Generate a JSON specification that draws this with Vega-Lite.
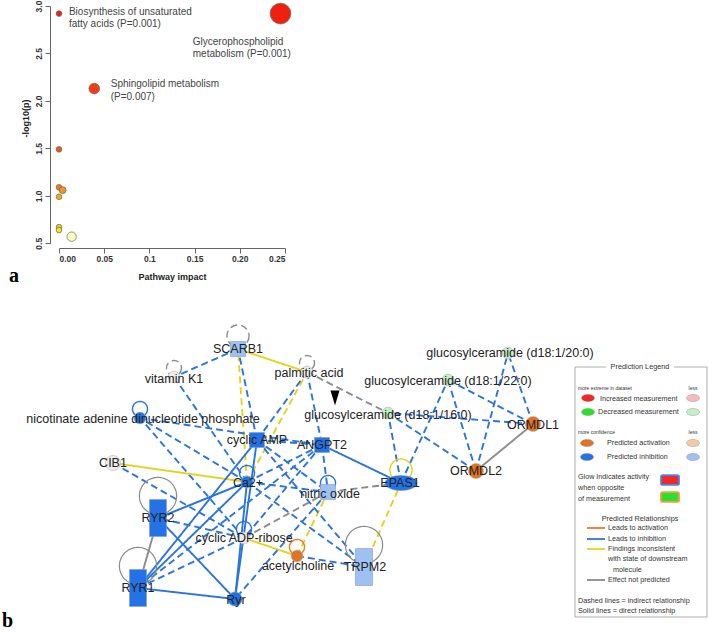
{
"$schema":"https://vega.github.io/schema/vega-lite/v6.json",
"width":709,"height":633,"autosize":"none","padding":0,"background":"white",
"config":{"view":{"stroke":null},"axis":{"grid":false}},
"datasets":{
 "pathways":[
  {"impact":0.245,"logp":2.92},
  {"impact":0.0,"logp":2.92},
  {"impact":0.039,"logp":2.13},
  {"impact":0.0,"logp":1.49},
  {"impact":0.0,"logp":1.09},
  {"impact":0.004,"logp":1.06},
  {"impact":0.0,"logp":0.99},
  {"impact":0.0,"logp":0.67},
  {"impact":0.0,"logp":0.64},
  {"impact":0.014,"logp":0.57}
 ],
 "pathlabels":[
  {"text":"Biosynthesis of unsaturated\nfatty acids (P=0.001)","impact":0.011,"logp":2.94},
  {"text":"Glycerophospholipid\nmetabolism (P=0.001)","impact":0.148,"logp":2.624},
  {"text":"Sphingolipid metabolism\n(P=0.007)","impact":0.0572,"logp":2.173}
 ],
 "nodes":[
  {"id":"SCARB1","label":"SCARB1","x":238,"y":349,"lx":238,"ly":349,"type":"transporter","state":"inhibited (less)"},
  {"id":"VITK1","label":"vitamin K1","x":174,"y":377,"lx":174,"ly":379,"type":"chemical","state":"none"},
  {"id":"PALM","label":"palmitic acid","x":307,"y":372,"lx":309,"ly":373,"type":"chemical","state":"none"},
  {"id":"NAADP","label":"nicotinate adenine dinucleotide phosphate","x":140,"y":418,"lx":143,"ly":419,"type":"chemical","state":"inhibited"},
  {"id":"CAMP","label":"cyclic AMP","x":257,"y":440,"lx":257,"ly":440,"type":"second messenger","state":"inhibited"},
  {"id":"ANGPT2","label":"ANGPT2","x":322,"y":445,"lx":322,"ly":445,"type":"growth factor","state":"inhibited"},
  {"id":"CIB1","label":"CIB1","x":113,"y":463,"lx":113,"ly":463,"type":"other","state":"none"},
  {"id":"CA","label":"Ca2+","x":247,"y":482,"lx":248,"ly":483,"type":"chemical","state":"inhibited"},
  {"id":"NO","label":"nitric oxide","x":328,"y":492,"lx":330,"ly":494,"type":"second messenger","state":"inhibited (less)"},
  {"id":"EPAS1","label":"EPAS1","x":401,"y":483,"lx":400,"ly":483,"type":"transcription regulator","state":"inhibited"},
  {"id":"RYR2","label":"RYR2","x":158,"y":518,"lx":158,"ly":518,"type":"ion channel","state":"inhibited"},
  {"id":"CADPR","label":"cyclic ADP-ribose","x":244,"y":538,"lx":244,"ly":538,"type":"chemical","state":"none"},
  {"id":"RYR1","label":"RYR1","x":138,"y":588,"lx":138,"ly":588,"type":"ion channel","state":"inhibited"},
  {"id":"RYR","label":"Ryr","x":235,"y":599,"lx":236,"ly":600,"type":"complex","state":"inhibited"},
  {"id":"ACH","label":"acetylcholine","x":297,"y":556,"lx":298,"ly":566,"type":"chemical","state":"activated"},
  {"id":"TRPM2","label":"TRPM2","x":364,"y":567,"lx":365,"ly":567,"type":"ion channel","state":"inhibited (less)"},
  {"id":"GC16","label":"glucosylceramide (d18:1/16:0)","x":388,"y":413,"lx":388,"ly":415,"type":"chemical","state":"decreased (less)"},
  {"id":"GC22","label":"glucosylceramide (d18:1/22:0)","x":448,"y":380,"lx":448,"ly":381,"type":"chemical","state":"decreased (less)"},
  {"id":"GC20","label":"glucosylceramide (d18:1/20:0)","x":508,"y":353,"lx":510,"ly":353,"type":"chemical","state":"decreased (less)"},
  {"id":"ORMDL1","label":"ORMDL1","x":533,"y":424,"lx":533,"ly":425,"type":"other","state":"activated"},
  {"id":"ORMDL2","label":"ORMDL2","x":476,"y":471,"lx":476,"ly":471,"type":"other","state":"activated"}
 ],
 "edges":[
  {"from":"SCARB1","to":"VITK1","relation":"inhibition","kind":"indirect"},
  {"from":"PALM","to":"SCARB1","relation":"inconsistent","kind":"direct"},
  {"from":"CA","to":"SCARB1","relation":"inconsistent","kind":"indirect"},
  {"from":"CAMP","to":"SCARB1","relation":"inhibition","kind":"indirect"},
  {"from":"VITK1","to":"CA","relation":"inhibition","kind":"indirect"},
  {"from":"CA","to":"PALM","relation":"inconsistent","kind":"indirect"},
  {"from":"PALM","to":"CAMP","relation":"inhibition","kind":"indirect"},
  {"from":"PALM","to":"ANGPT2","relation":"inhibition","kind":"indirect"},
  {"from":"PALM","to":"GC16","relation":"not predicted","kind":"indirect"},
  {"from":"CA","to":"NAADP","relation":"inhibition","kind":"indirect"},
  {"from":"CADPR","to":"NAADP","relation":"inhibition","kind":"indirect"},
  {"from":"NAADP","to":"ANGPT2","relation":"inhibition","kind":"indirect"},
  {"from":"CAMP","to":"ANGPT2","relation":"inhibition","kind":"indirect"},
  {"from":"CIB1","to":"CA","relation":"inconsistent","kind":"direct"},
  {"from":"CIB1","to":"CADPR","relation":"inhibition","kind":"indirect"},
  {"from":"CA","to":"RYR2","relation":"inhibition","kind":"direct"},
  {"from":"CA","to":"RYR1","relation":"inhibition","kind":"direct"},
  {"from":"CA","to":"RYR","relation":"inhibition","kind":"direct"},
  {"from":"CAMP","to":"RYR1","relation":"inhibition","kind":"direct"},
  {"from":"RYR","to":"CAMP","relation":"inhibition","kind":"direct"},
  {"from":"CADPR","to":"RYR2","relation":"inhibition","kind":"indirect"},
  {"from":"CADPR","to":"RYR1","relation":"inhibition","kind":"indirect"},
  {"from":"RYR2","to":"RYR","relation":"inhibition","kind":"direct"},
  {"from":"RYR1","to":"RYR","relation":"inhibition","kind":"direct"},
  {"from":"RYR1","to":"RYR2","relation":"not predicted","kind":"direct"},
  {"from":"ANGPT2","to":"CA","relation":"inhibition","kind":"indirect"},
  {"from":"ANGPT2","to":"CADPR","relation":"inhibition","kind":"indirect"},
  {"from":"ANGPT2","to":"NO","relation":"inhibition","kind":"indirect"},
  {"from":"ANGPT2","to":"RYR1","relation":"inhibition","kind":"indirect"},
  {"from":"EPAS1","to":"ANGPT2","relation":"inhibition","kind":"direct"},
  {"from":"EPAS1","to":"NO","relation":"not predicted","kind":"indirect"},
  {"from":"EPAS1","to":"GC16","relation":"inhibition","kind":"indirect"},
  {"from":"EPAS1","to":"GC22","relation":"inhibition","kind":"indirect"},
  {"from":"TRPM2","to":"EPAS1","relation":"inconsistent","kind":"indirect"},
  {"from":"NO","to":"CADPR","relation":"not predicted","kind":"indirect"},
  {"from":"ACH","to":"CADPR","relation":"inconsistent","kind":"direct"},
  {"from":"ACH","to":"NO","relation":"inconsistent","kind":"indirect"},
  {"from":"NO","to":"RYR","relation":"inhibition","kind":"indirect"},
  {"from":"CA","to":"TRPM2","relation":"inhibition","kind":"indirect"},
  {"from":"CAMP","to":"TRPM2","relation":"inhibition","kind":"indirect"},
  {"from":"CA","to":"NO","relation":"inhibition","kind":"indirect"},
  {"from":"CAMP","to":"NO","relation":"inhibition","kind":"indirect"},
  {"from":"ACH","to":"TRPM2","relation":"inhibition","kind":"indirect"},
  {"from":"ORMDL1","to":"GC16","relation":"inhibition","kind":"indirect"},
  {"from":"ORMDL1","to":"GC22","relation":"inhibition","kind":"indirect"},
  {"from":"ORMDL1","to":"GC20","relation":"inhibition","kind":"indirect"},
  {"from":"ORMDL2","to":"GC16","relation":"inhibition","kind":"indirect"},
  {"from":"ORMDL2","to":"GC22","relation":"inhibition","kind":"indirect"},
  {"from":"ORMDL2","to":"GC20","relation":"inhibition","kind":"indirect"},
  {"from":"ORMDL1","to":"ORMDL2","relation":"not predicted","kind":"direct"}
 ],
 "loops":[
  {"node":"SCARB1","relation":"not predicted","kind":"indirect"},
  {"node":"VITK1","relation":"not predicted","kind":"indirect"},
  {"node":"PALM","relation":"not predicted","kind":"indirect"},
  {"node":"NAADP","relation":"inhibition","kind":"direct"},
  {"node":"CA","relation":"inhibition","kind":"direct"},
  {"node":"NO","relation":"inhibition","kind":"direct"},
  {"node":"CADPR","relation":"inhibition","kind":"direct"},
  {"node":"EPAS1","relation":"inconsistent","kind":"direct"},
  {"node":"ACH","relation":"activation","kind":"direct"},
  {"node":"RYR2","relation":"not predicted","kind":"direct"},
  {"node":"RYR1","relation":"not predicted","kind":"direct"},
  {"node":"TRPM2","relation":"not predicted","kind":"direct"}
 ],
 "legendText":[
  {"text":"Prediction Legend","x":640,"y":367,"role":"title"},
  {"text":"more extreme in dataset","x":578,"y":388,"role":"small"},
  {"text":"less","x":693,"y":388,"role":"less"},
  {"text":"Increased measurement","x":600,"y":399,"role":"item"},
  {"text":"Decreased measurement","x":598,"y":412,"role":"item"},
  {"text":"more confidence","x":578,"y":432,"role":"small"},
  {"text":"less","x":693,"y":432,"role":"less"},
  {"text":"Predicted activation","x":607,"y":443,"role":"item"},
  {"text":"Predicted inhibition","x":607,"y":457,"role":"item"},
  {"text":"Glow Indicates activity","x":578,"y":477,"role":"item"},
  {"text":"when opposite","x":578,"y":488,"role":"item"},
  {"text":"of measurement","x":578,"y":499,"role":"item"},
  {"text":"Predicted Relationships","x":640,"y":519,"role":"title"},
  {"text":"Leads to activation","x":608,"y":528,"role":"item"},
  {"text":"Leads to inhibition","x":608,"y":539,"role":"item"},
  {"text":"Findings inconsistent","x":608,"y":549,"role":"item"},
  {"text":"with state of downstream","x":608,"y":559,"role":"item"},
  {"text":"molecule","x":613,"y":570,"role":"item"},
  {"text":"Effect not predicted","x":608,"y":580,"role":"item"},
  {"text":"Dashed lines = indirect relationship","x":578,"y":601,"role":"item"},
  {"text":"Solid lines = direct relationship","x":578,"y":611,"role":"item"}
 ],
 "legendSym":[
  {"state":"increased","x":588,"y":398},
  {"state":"increased (less)","x":693,"y":398},
  {"state":"decreased","x":588,"y":412},
  {"state":"decreased (less)","x":693,"y":412},
  {"state":"activated","x":587,"y":443},
  {"state":"activated (less)","x":693,"y":443},
  {"state":"inhibited","x":587,"y":457},
  {"state":"inhibited (less)","x":693,"y":457}
 ],
 "legendGlow":[
  {"state":"increased","glow":"inhibition","x":670,"y":480},
  {"state":"decreased","glow":"activation","x":670,"y":497}
 ],
 "legendLines":[
  {"relation":"activation","x":587,"x2":605,"y":528},
  {"relation":"inhibition","x":587,"x2":605,"y":539},
  {"relation":"inconsistent","x":587,"x2":605,"y":549},
  {"relation":"not predicted","x":587,"x2":605,"y":580}
 ],
 "frame":[
  {"part":"box","x":575,"x2":707,"y":367,"y2":617},
  {"part":"gap","x":606,"x2":674,"y":363,"y2":371}
 ],
 "marker":[{"x":335,"y":398}],
 "panels":[{"label":"a","x":9,"y":282},{"label":"b","x":2,"y":627}]
},
"layer":[
 {
  "encoding":{
   "x":{"field":"impact","type":"quantitative",
        "scale":{"domain":[0,0.25],"range":[59,285],"nice":false,"zero":false},
        "axis":{"values":[0,0.05,0.1,0.15,0.2,0.25],
                "labelExpr":"abs(datum.value - 0.1) < 0.0001 ? '0.1' : format(datum.value, '.2f')",
                "offset":-385,"title":"Pathway impact","titleFont":"Liberation Sans","titleFontSize":9,"titleFontWeight":"bold","titleColor":"#222",
                "titleX":172,"titleY":28,"titleBaseline":"middle",
                "labelFont":"Liberation Sans","labelFontSize":8.5,"labelFontWeight":"bold","labelColor":"#333","labelPadding":1,
                "tickSize":5,"tickColor":"#666","domainColor":"#666","grid":false}},
   "y":{"field":"logp","type":"quantitative",
        "scale":{"domain":[0.5,3.0],"range":[243.3,6],"nice":false,"zero":false},
        "axis":{"values":[0.5,1,1.5,2,2.5,3],"format":".1f","offset":-50,
                "title":"-log10(p)","titleFont":"Liberation Sans","titleFontSize":9,"titleFontWeight":"bold","titleColor":"#222",
                "titleX":-25,"titleY":118,"titleAngle":-90,"titleBaseline":"middle","titleAlign":"center",
                "labelAngle":-90,"labelAlign":"center","labelBaseline":"bottom",
                "labelFont":"Liberation Sans","labelFontSize":8.5,"labelFontWeight":"bold","labelColor":"#333","labelPadding":2,
                "tickSize":5,"tickColor":"#666","domainColor":"#666","grid":false}}
  },
  "layer":[
   {"data":{"name":"pathways"},
    "mark":{"type":"point","filled":true,"opacity":1,"stroke":"#666","strokeWidth":0.7},
    "encoding":{
     "fill":{"field":"logp","type":"quantitative","legend":null,
       "scale":{"domain":[0.57,0.64,0.67,0.99,1.06,1.09,1.49,2.13,2.92],
                "range":["#fffbc2","#f6e31c","#f3d21c","#f5ab12","#f39522","#f0801a","#ea5a18","#f33e12","#f02010"]}},
     "size":{"field":"impact","type":"quantitative","legend":null,
       "scale":{"domain":[0,0.014,0.039,0.245],"range":[32,88,113,430]}}
    }},
   {"data":{"name":"pathlabels"},
    "mark":{"type":"text","align":"left","baseline":"middle","lineBreak":"\n","lineHeight":12.5,"font":"Liberation Sans","fontSize":10,"fill":"#444"},
    "encoding":{"text":{"field":"text"}}}
  ]
 },
 {
  "encoding":{
   "x":{"field":"x","type":"quantitative","scale":{"domain":[0,709],"range":[0,709],"nice":false,"zero":false},"axis":null},
   "y":{"field":"y","type":"quantitative","scale":{"domain":[0,633],"range":[0,633],"nice":false,"zero":false},"axis":null}
  },
  "layer":[
   {"data":{"name":"edges"},
    "transform":[
     {"lookup":"from","from":{"data":{"name":"nodes"},"key":"id","fields":["x","y"]},"as":["x","y"]},
     {"lookup":"to","from":{"data":{"name":"nodes"},"key":"id","fields":["x","y"]},"as":["tx","ty"]}
    ],
    "mark":{"type":"rule","strokeWidth":1.9},
    "encoding":{
     "x2":{"field":"tx"},"y2":{"field":"ty"},
     "color":{"field":"relation","type":"nominal","legend":null,
       "scale":{"domain":["activation","inhibition","inconsistent","not predicted"],"range":["#f07a1e","#2a74e0","#e6d21e","#8c8c8c"]}},
     "strokeDash":{"field":"kind","type":"nominal","legend":null,
       "scale":{"domain":["indirect","direct"],"range":[[7,4],[1,0]]}}
    }},
   {"data":{"name":"loops"},
    "transform":[
     {"lookup":"node","from":{"data":{"name":"nodes"},"key":"id","fields":["x","y","type"]}},
     {"filter":"datum.type != 'ion channel' && datum.type != 'transporter' && datum.type != 'transcription regulator'"}
    ],
    "mark":{"type":"point","shape":"circle","filled":false,"opacity":1,"size":227,"strokeWidth":1.4,"yOffset":-9},
    "encoding":{
     "color":{"field":"relation","type":"nominal","legend":null},
     "strokeDash":{"field":"kind","type":"nominal","legend":null}
    }},
   {"data":{"name":"loops"},
    "transform":[
     {"lookup":"node","from":{"data":{"name":"nodes"},"key":"id","fields":["x","y","type"]}},
     {"filter":"datum.type == 'transporter' || datum.type == 'transcription regulator'"}
    ],
    "mark":{"type":"point","shape":"circle","filled":false,"opacity":1,"size":491,"strokeWidth":1.4,"yOffset":-13},
    "encoding":{
     "color":{"field":"relation","type":"nominal","legend":null},
     "strokeDash":{"field":"kind","type":"nominal","legend":null}
    }},
   {"data":{"name":"loops"},
    "transform":[
     {"lookup":"node","from":{"data":{"name":"nodes"},"key":"id","fields":["x","y","type"]}},
     {"filter":"datum.type == 'ion channel'"}
    ],
    "mark":{"type":"point","shape":"circle","filled":false,"opacity":1,"size":1385,"strokeWidth":1.2,"yOffset":-22},
    "encoding":{
     "color":{"field":"relation","type":"nominal","legend":null},
     "strokeDash":{"field":"kind","type":"nominal","legend":null}
    }},
   {"data":{"name":"nodes"},
    "transform":[{"filter":"datum.type == 'ion channel'"}],
    "mark":{"type":"point","shape":"M-0.46,-1L0.46,-1L0.46,1L-0.46,1Z","filled":true,"opacity":1,"size":1369,"stroke":"#7f9cc8","strokeWidth":0.6},
    "encoding":{"fill":{"field":"state","type":"nominal","legend":null,
       "scale":{"domain":["increased","increased (less)","decreased","decreased (less)","activated","activated (less)","inhibited","inhibited (less)","none"],
                "range":["#ee2a2a","#f6b9bd","#2ee02e","#c4eec4","#e07424","#f6c9a4","#2472e6","#9dc1f2","#ececec"]}}}},
   {"data":{"name":"nodes"},
    "transform":[{"filter":"datum.type == 'transporter' || datum.type == 'growth factor' || datum.type == 'second messenger'"}],
    "mark":{"type":"point","shape":"square","filled":true,"opacity":1,"size":225,"stroke":"#7f9cc8","strokeWidth":0.6},
    "encoding":{"fill":{"field":"state","type":"nominal","legend":null}}},
   {"data":{"name":"nodes"},
    "transform":[{"filter":"datum.type == 'transcription regulator'"}],
    "mark":{"type":"point","shape":"M-1,0A1,0.47,0,1,1,1,0A1,0.47,0,1,1,-1,0Z","filled":true,"opacity":1,"size":1024,"stroke":"#7f9cc8","strokeWidth":0.6},
    "encoding":{"fill":{"field":"state","type":"nominal","legend":null}}},
   {"data":{"name":"nodes"},
    "transform":[{"filter":"datum.type == 'chemical'"}],
    "mark":{"type":"point","shape":"circle","filled":true,"opacity":1,"size":140,"stroke":"#b5b5b5","strokeWidth":0.6},
    "encoding":{"fill":{"field":"state","type":"nominal","legend":null}}},
   {"data":{"name":"nodes"},
    "transform":[{"filter":"datum.type == 'other'"}],
    "mark":{"type":"point","shape":"circle","filled":true,"opacity":1,"size":230,"stroke":"#b5b5b5","strokeWidth":0.6},
    "encoding":{"fill":{"field":"state","type":"nominal","legend":null}}},
   {"data":{"name":"nodes"},
    "transform":[{"filter":"datum.type == 'complex'"}],
    "mark":{"type":"point","shape":"circle","filled":true,"opacity":1,"size":200,"stroke":"#7f9cc8","strokeWidth":0.6},
    "encoding":{"fill":{"field":"state","type":"nominal","legend":null}}},
   {"data":{"name":"nodes"},
    "mark":{"type":"text","align":"center","baseline":"middle","font":"Liberation Sans","fontSize":12.5,"fill":"#222"},
    "encoding":{"x":{"field":"lx","type":"quantitative"},"y":{"field":"ly","type":"quantitative"},"text":{"field":"label"}}},
   {"data":{"name":"marker"},
    "mark":{"type":"point","shape":"M-0.6,-1L0.6,-1L0,1Z","filled":true,"opacity":1,"size":225,"fill":"#000"}},
   {"data":{"name":"frame"},
    "transform":[{"filter":"datum.part == 'box'"}],
    "mark":{"type":"rect","fill":"white","stroke":"#9a9a9a","strokeWidth":0.8},
    "encoding":{"x2":{"field":"x2"},"y2":{"field":"y2"}}},
   {"data":{"name":"frame"},
    "transform":[{"filter":"datum.part == 'gap'"}],
    "mark":{"type":"rect","fill":"white"},
    "encoding":{"x2":{"field":"x2"},"y2":{"field":"y2"}}},
   {"data":{"name":"legendLines"},
    "mark":{"type":"rule","strokeWidth":1.8},
    "encoding":{"x2":{"field":"x2"},"color":{"field":"relation","type":"nominal","legend":null}}},
   {"data":{"name":"legendSym"},
    "mark":{"type":"point","shape":"M-1,0A1,0.55,0,1,1,1,0A1,0.55,0,1,1,-1,0Z","filled":true,"opacity":1,"size":169,"stroke":"#8a8a8a","strokeWidth":0.4},
    "encoding":{"fill":{"field":"state","type":"nominal","legend":null}}},
   {"data":{"name":"legendGlow"},
    "mark":{"type":"point","shape":"M-0.8,-0.55L0.8,-0.55Q1,-0.55,1,-0.35L1,0.35Q1,0.55,0.8,0.55L-0.8,0.55Q-1,0.55,-1,0.35L-1,-0.35Q-1,-0.55,-0.8,-0.55Z","filled":true,"opacity":1,"size":324,"strokeWidth":1.8},
    "encoding":{"fill":{"field":"state","type":"nominal","legend":null},
                "stroke":{"field":"glow","type":"nominal","legend":null,"scale":{"domain":["inhibition","activation"],"range":["#4a86ee","#f0a040"]}}}},
   {"data":{"name":"legendText"},
    "transform":[{"filter":"datum.role == 'title'"}],
    "mark":{"type":"text","align":"center","baseline":"middle","font":"Liberation Sans","fontSize":7.3,"fill":"#333"},
    "encoding":{"text":{"field":"text"}}},
   {"data":{"name":"legendText"},
    "transform":[{"filter":"datum.role == 'item'"}],
    "mark":{"type":"text","align":"left","baseline":"middle","font":"Liberation Sans","fontSize":7.2,"fill":"#333"},
    "encoding":{"text":{"field":"text"}}},
   {"data":{"name":"legendText"},
    "transform":[{"filter":"datum.role == 'small'"}],
    "mark":{"type":"text","align":"left","baseline":"middle","font":"Liberation Sans","fontSize":5,"fill":"#333"},
    "encoding":{"text":{"field":"text"}}},
   {"data":{"name":"legendText"},
    "transform":[{"filter":"datum.role == 'less'"}],
    "mark":{"type":"text","align":"center","baseline":"middle","font":"Liberation Sans","fontSize":5,"fill":"#333"},
    "encoding":{"text":{"field":"text"}}},
   {"data":{"name":"panels"},
    "mark":{"type":"text","align":"left","baseline":"alphabetic","font":"Liberation Serif","fontSize":20,"fontWeight":"bold","fill":"#000"},
    "encoding":{"text":{"field":"label"}}}
  ]
 }
],
"resolve":{"scale":{"x":"independent","y":"independent","fill":"independent"},"axis":{"x":"independent","y":"independent"}}
}
